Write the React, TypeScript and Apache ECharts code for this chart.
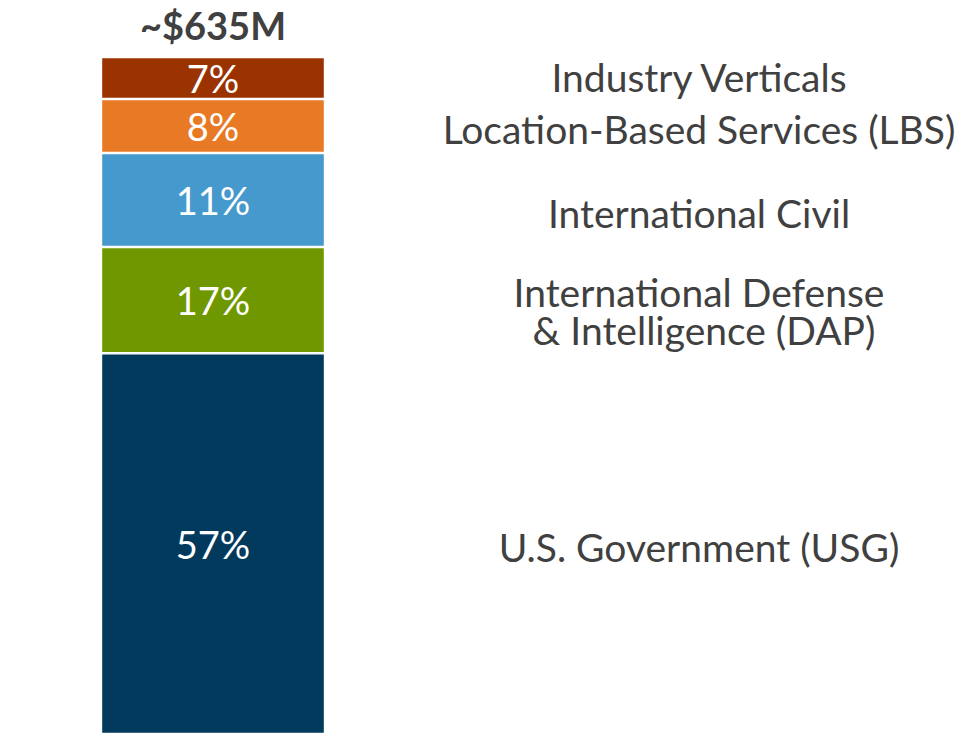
import React, { useEffect, useRef } from "react";
import * as echarts from "echarts";

const categories = ["Revenue"];
const segmentNames = [
  "U.S. Government (USG)",
  "International Defense\n & Intelligence (DAP)",
  "International Civil",
  "Location-Based Services (LBS)",
  "Industry Verticals",
];
const segmentValues = [56.3, 15.7, 13.9, 8.0, 6.2];
const shareLabels = ["57%", "17%", "11%", "8%", "7%"];
const segmentColors = ["#013a5d", "#6f9800", "#4599cc", "#e87a25", "#9a3300"];
const totalLabel = "~$635M";
// vertical nudge of each side label relative to its segment centre (px)
const nameOffsets = [3, 11, 13, 3, -1];

const FONT = "Lato, 'Open Sans', sans-serif";
const LINE_H = 38;

export default function App() {
  const ref = useRef<HTMLDivElement>(null);
  useEffect(() => {
    document.body.style.margin = "0";
    const el = ref.current!;
    const chart = echarts.init(el, undefined, { renderer: "svg" });
    const total = segmentValues.reduce((a, b) => a + b, 0);
    const series = segmentValues.map((v, i) => ({
      type: "bar",
      name: segmentNames[i],
      stack: "total",
      barWidth: "100%",
      data: [v],
      itemStyle: { color: segmentColors[i], borderColor: "#ffffff", borderWidth: 1.2 },
      label: {
        show: true,
        position: "inside",
        formatter: () => shareLabels[i],
        color: "#ffffff",
        fontFamily: FONT,
        fontSize: 38,
      },
    }));
    chart.setOption({
      animation: false,
      grid: { left: 101, width: 224, top: 57, bottom: 0 },
      xAxis: { type: "category", data: categories, show: false, boundaryGap: true },
      yAxis: { type: "value", min: 0, max: total, show: false },
      series,
    });
    const graphics: any[] = [];
    let cum = 0;
    const cx = chart.convertToPixel({ xAxisIndex: 0 }, categories[0]) as number;
    segmentValues.forEach((v, i) => {
      const mid = cum + v / 2;
      cum += v;
      const y = chart.convertToPixel({ yAxisIndex: 0 }, mid) as number;
      const lines = segmentNames[i].split("\n");
      const y0 = y + nameOffsets[i] - ((lines.length - 1) * LINE_H) / 2;
      lines.forEach((line, j) => {
        graphics.push({
          type: "text",
          x: 699,
          y: y0 + j * LINE_H,
          style: {
            text: line,
            fontFamily: FONT,
            fontSize: 39,
            fill: "#404040",
            align: "center",
            verticalAlign: "middle",
          },
        });
      });
    });
    const topY = chart.convertToPixel({ yAxisIndex: 0 }, total) as number;
    graphics.push({
      type: "text",
      x: cx,
      y: topY - 32,
      style: {
        text: totalLabel,
        fontFamily: FONT,
        fontWeight: "bold",
        fontSize: 38,
        fill: "#404040",
        align: "center",
        verticalAlign: "middle",
      },
    });
    chart.setOption({ graphic: graphics });
    return () => chart.dispose();
  }, []);
  return <div ref={ref} style={{ width: 957, height: 734 }} />;
}
